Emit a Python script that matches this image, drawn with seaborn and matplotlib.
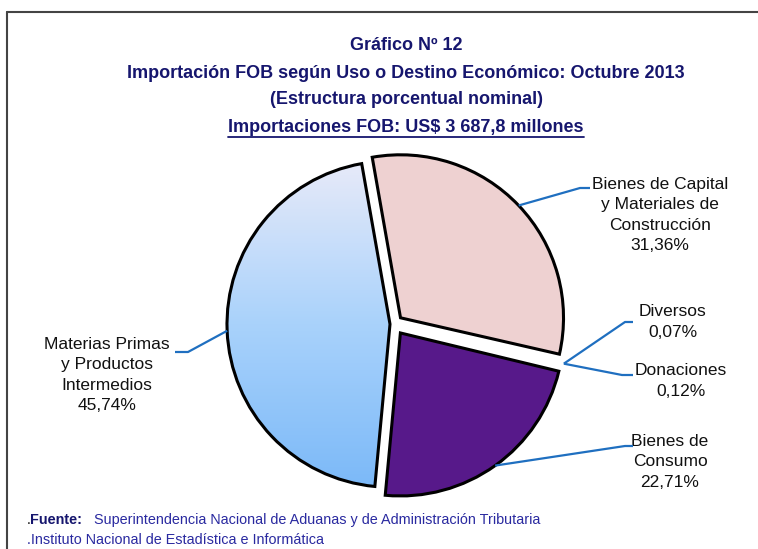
import numpy as np
import matplotlib
matplotlib.use("Agg")
import matplotlib.pyplot as plt
import seaborn as sns
from matplotlib import font_manager
from matplotlib.colors import LinearSegmentedColormap
from matplotlib.lines import Line2D

# data
categories = ["Bienes de Capital\ny Materiales de\nConstrucción", "Diversos", "Donaciones",
              "Bienes de\nConsumo", "Materias Primas\ny Productos\nIntermedios"]
shares = [31.36, 0.07, 0.12, 22.71, 45.74]
pct_labels = ["31,36%", "0,07%", "0,12%", "22,71%", "45,74%"]

title_lines = ["Gráfico Nº 12",
               "Importación FOB según Uso o Destino Económico: Octubre 2013",
               "(Estructura porcentual nominal)"]
subtitle = "Importaciones FOB: US$ 3 687,8 millones"
source_1 = "Superintendencia Nacional de Aduanas y de Administración Tributaria"
source_2 = ".Instituto Nacional de Estadística e Informática"

W, H = 758, 549
explode = [9, 0, 0, 11, 4]  # pixels (pie uses data units)
colors = ["#eed1d1", "#ffffff", "#ffffff", "#57198a", "#a8d0fa"]
NAVY = "#16166e"
LINE = "#1f6fc0"

sns.set_theme(style="white")
names = {f.name for f in font_manager.fontManager.ttflist}
has_narrow = "Liberation Sans Narrow" in names
narrow = "Liberation Sans Narrow" if has_narrow else "Liberation Sans"
tsize = 15 if has_narrow else 13
fsize = 12 if has_narrow else 10.4
plt.rcParams["font.family"] = ["Liberation Sans", "DejaVu Sans"]

fig = plt.figure(figsize=(W / 100, H / 100), dpi=100)
ax = fig.add_axes([0, 0, 1, 1])


def px(x, y):
    # image pixel -> data coords (y up)
    return x, H - y


cx, cy = px(394, 324)
R = 163
wedges, _ = ax.pie(shares, explode=explode, colors=colors, startangle=100,
                   counterclock=False, center=(cx, cy), radius=R,
                   wedgeprops=dict(edgecolor="black", linewidth=2.2))

# the two tiny slices are lost in the gap in the original
for w in wedges[1:3]:
    w.set_linewidth(0)
    w.set_facecolor("none")

# soft gradient on the big slice
grad = np.linspace(0, 1, 256).reshape(-1, 1)
cmap = LinearSegmentedColormap.from_list("mp", ["#76b6f8", "#a9d2fb", "#efedf9"])
w = wedges[4]
im = ax.imshow(grad, extent=(cx - R - 20, cx + 20, cy - R - 20, cy + R + 20),
               origin="lower", cmap=cmap, aspect="auto", zorder=w.get_zorder() - 0.01)
im.set_clip_path(w)
w.set_facecolor("none")

ax.set_xlim(0, W)
ax.set_ylim(0, H)
ax.set_aspect("equal")
ax.axis("off")


def edge_point(wedge, scale=1.0):
    th = np.deg2rad((wedge.theta1 + wedge.theta2) / 2)
    x0, y0 = wedge.center
    return x0 + wedge.r * scale * np.cos(th), y0 + wedge.r * scale * np.sin(th)


# label layout: text center, elbow, end of horizontal arm (image px)
layout = {
    0: ((660, 215), (580, 188), (590, 188)),
    1: ((673, 322), (625, 322), (633, 322)),
    2: ((681, 381), (622, 375), (633, 375)),
    3: ((670, 462), (625, 446), (633, 446)),
    4: ((107, 375), (188, 352), (175, 352)),
}

# hub for the two tiny slices
th_hub = np.deg2rad((wedges[1].theta1 + wedges[2].theta2) / 2)
hub = (cx + R * 1.07 * np.cos(th_hub), cy + R * 1.07 * np.sin(th_hub))

for i, (txt, elbow, end) in layout.items():
    start = hub if i in (1, 2) else edge_point(wedges[i])
    ex, ey = px(*elbow)
    fx, fy = px(*end)
    ax.plot([start[0], ex, fx], [start[1], ey, fy], color=LINE, lw=1.6,
            solid_capstyle="butt", zorder=5)
    tx, ty = px(*txt)
    ax.text(tx, ty, categories[i] + "\n" + pct_labels[i], ha="center", va="center",
            fontsize=12.5, linespacing=1.42, color="#111111")

# titles
for line, yy in zip(title_lines, [45, 73, 99]):
    fig.text(406 / W, 1 - yy / H, line, ha="center", va="center", fontsize=tsize,
             fontweight="bold", family=narrow, color=NAVY)
sub = fig.text(406 / W, 1 - 127 / H, subtitle, ha="center", va="center", fontsize=tsize,
               fontweight="bold", family=narrow, color=NAVY)

# source
fig.text(27 / W, 1 - 520 / H, ".", ha="left", va="center", fontsize=fsize, family=narrow,
         color="#111111")
fig.text(30 / W, 1 - 520 / H, "Fuente:", ha="left", va="center", fontsize=fsize,
         fontweight="bold", family=narrow, color=NAVY)
fig.text(94 / W, 1 - 520 / H, source_1, ha="left", va="center", fontsize=fsize,
         family=narrow, color="#2a2aa0")
fig.text(27 / W, 1 - 540 / H, source_2, ha="left", va="center", fontsize=fsize,
         family=narrow, color="#2a2aa0")

# frame (cropped on right and bottom)
fig.add_artist(Line2D([7 / W, 7 / W], [0, 1 - 12 / H], color="#444444", lw=1.5))
fig.add_artist(Line2D([7 / W, 1], [1 - 12 / H, 1 - 12 / H], color="#444444", lw=1.5))

# underline subtitle
fig.canvas.draw()
bb = sub.get_window_extent()
y_ul = bb.y0 - 1
fig.add_artist(Line2D([bb.x0 / W, bb.x1 / W], [y_ul / H, y_ul / H], color=NAVY, lw=1.3))

fig.savefig("out.png", dpi=100)
